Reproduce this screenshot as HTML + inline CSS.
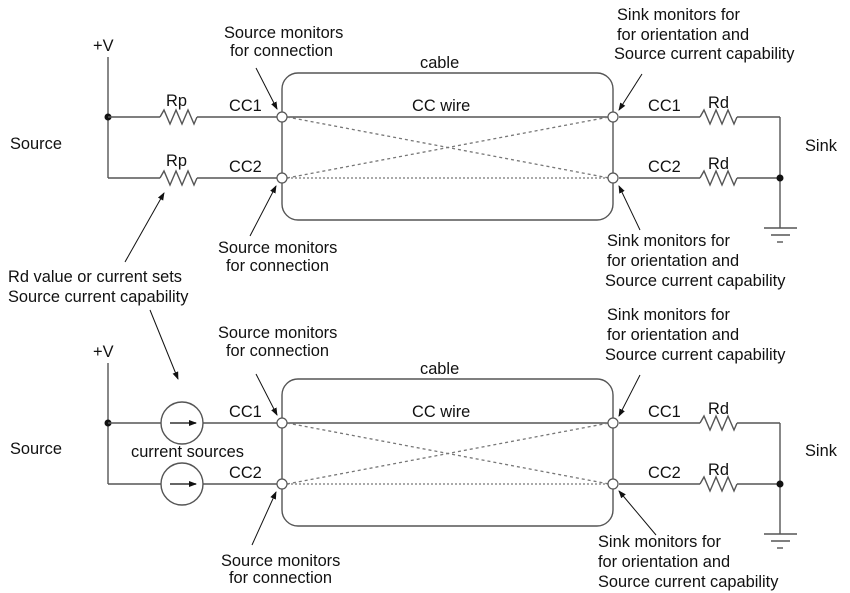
<!DOCTYPE html>
<html><head><meta charset="utf-8"><style>
html,body{margin:0;padding:0;background:#fff;}
svg{display:block;}
text{font-family:"Liberation Sans",Arial,sans-serif;font-size:16.4px;fill:#111;}
</style></head><body>
<svg width="850" height="593" viewBox="0 0 850 593" xmlns="http://www.w3.org/2000/svg">
<defs>
<marker id="ah" markerWidth="8" markerHeight="8" refX="7" refY="4" orient="auto" markerUnits="userSpaceOnUse"><path d="M0,1 L8,4 L0,7 Z" fill="#111"/></marker>
<g id="rz"><polyline points="0,0 4,-7 10,7 16,-7 22,7 28,-7 34,7 37,0" fill="none" stroke="#555" stroke-width="1.4"/></g>
<g id="sink">
  <line x1="619" y1="0" x2="700" y2="0" stroke="#555" stroke-width="1.4"/>
  <use href="#rz" x="700" y="0"/>
  <line x1="737" y1="0" x2="780" y2="0" stroke="#555" stroke-width="1.4"/>
  <line x1="619" y1="61" x2="700" y2="61" stroke="#555" stroke-width="1.4"/>
  <use href="#rz" x="700" y="61"/>
  <line x1="737" y1="61" x2="780" y2="61" stroke="#555" stroke-width="1.4"/>
  <line x1="780" y1="0" x2="780" y2="111" stroke="#555" stroke-width="1.4"/>
  <circle cx="780" cy="61" r="3.5" fill="#111"/>
  <line x1="764" y1="111" x2="797" y2="111" stroke="#555" stroke-width="1.4"/>
  <line x1="771" y1="118" x2="790" y2="118" stroke="#555" stroke-width="1.4"/>
  <line x1="777" y1="125" x2="783" y2="125" stroke="#555" stroke-width="1.4"/>
  <text x="648" y="-6">CC1</text><text x="708" y="-9">Rd</text>
  <text x="648" y="55">CC2</text><text x="708" y="52">Rd</text>
</g>
<g id="cable">
  <rect x="282" y="-44" width="331" height="147" rx="16" fill="none" stroke="#555" stroke-width="1.4"/>
  <line x1="282" y1="0" x2="613" y2="0" stroke="#555" stroke-width="1.4"/>
  <line x1="287" y1="0" x2="609" y2="61" stroke="#777" stroke-width="1.3" stroke-dasharray="3,3"/>
  <line x1="287" y1="61" x2="609" y2="0" stroke="#777" stroke-width="1.3" stroke-dasharray="3,3"/>
  <line x1="287" y1="61" x2="609" y2="61" stroke="#777" stroke-width="1.3" stroke-dasharray="2,2"/>
  <circle cx="282" cy="0" r="5" fill="#fff" stroke="#555" stroke-width="1.2"/>
  <circle cx="282" cy="61" r="5" fill="#fff" stroke="#555" stroke-width="1.2"/>
  <circle cx="613" cy="0" r="5" fill="#fff" stroke="#555" stroke-width="1.2"/>
  <circle cx="613" cy="61" r="5" fill="#fff" stroke="#555" stroke-width="1.2"/>
  <text x="420" y="-49">cable</text>
  <text x="412" y="-6">CC wire</text>
  <text x="229" y="-6">CC1</text>
  <text x="229" y="55">CC2</text>
</g>
</defs>

<text x="93" y="51">+V</text>
<line x1="108" y1="57" x2="108" y2="178" stroke="#555" stroke-width="1.4"/>
<circle cx="108" cy="117" r="3.5" fill="#111"/>
<line x1="108" y1="117" x2="160" y2="117" stroke="#555" stroke-width="1.4"/>
<use href="#rz" x="160" y="117"/>
<line x1="197" y1="117" x2="277" y2="117" stroke="#555" stroke-width="1.4"/>
<line x1="108" y1="178" x2="160" y2="178" stroke="#555" stroke-width="1.4"/>
<use href="#rz" x="160" y="178"/>
<line x1="197" y1="178" x2="277" y2="178" stroke="#555" stroke-width="1.4"/>
<text x="166" y="106">Rp</text><text x="166" y="166">Rp</text>
<use href="#cable" x="0" y="117"/>
<use href="#sink" x="0" y="117"/>
<text x="10" y="149">Source</text>
<text x="805" y="151">Sink</text>
<text x="224" y="38">Source monitors</text>
<text x="230" y="56">for connection</text>
<line x1="256" y1="68" x2="277" y2="109" stroke="#111" stroke-width="1" marker-end="url(#ah)"/>
<text x="617" y="20">Sink monitors for</text>
<text x="617" y="40">for orientation and</text>
<text x="614" y="59">Source current capability</text>
<line x1="642" y1="74" x2="619" y2="110" stroke="#111" stroke-width="1" marker-end="url(#ah)"/>
<text x="218" y="253">Source monitors</text>
<text x="226" y="271">for connection</text>
<line x1="250" y1="236" x2="276" y2="186" stroke="#111" stroke-width="1" marker-end="url(#ah)"/>
<text x="607" y="246">Sink monitors for</text>
<text x="607" y="266">for orientation and</text>
<text x="605" y="286">Source current capability</text>
<line x1="640" y1="230" x2="619" y2="186" stroke="#111" stroke-width="1" marker-end="url(#ah)"/>
<text x="8" y="282">Rd value or current sets</text>
<text x="8" y="302">Source current capability</text>
<line x1="125" y1="262" x2="164" y2="193" stroke="#111" stroke-width="1" marker-end="url(#ah)"/>
<line x1="150" y1="310" x2="178" y2="379" stroke="#111" stroke-width="1" marker-end="url(#ah)"/>

<text x="93" y="357">+V</text>
<line x1="108" y1="363" x2="108" y2="484" stroke="#555" stroke-width="1.4"/>
<circle cx="108" cy="423" r="3.5" fill="#111"/>
<line x1="108" y1="423" x2="277" y2="423" stroke="#555" stroke-width="1.4"/>
<line x1="108" y1="484" x2="277" y2="484" stroke="#555" stroke-width="1.4"/>
<circle cx="182" cy="423" r="21" fill="#fff" stroke="#555" stroke-width="1.4"/>
<line x1="170" y1="423" x2="196" y2="423" stroke="#333" stroke-width="1.4" marker-end="url(#ah)"/>
<circle cx="182" cy="484" r="21" fill="#fff" stroke="#555" stroke-width="1.4"/>
<line x1="170" y1="484" x2="196" y2="484" stroke="#333" stroke-width="1.4" marker-end="url(#ah)"/>
<text x="131" y="457">current sources</text>
<use href="#cable" x="0" y="423"/>
<use href="#sink" x="0" y="423"/>
<text x="10" y="454">Source</text>
<text x="805" y="456">Sink</text>
<text x="218" y="338">Source monitors</text>
<text x="226" y="356">for connection</text>
<line x1="256" y1="374" x2="277" y2="415" stroke="#111" stroke-width="1" marker-end="url(#ah)"/>
<text x="607" y="320">Sink monitors for</text>
<text x="607" y="340">for orientation and</text>
<text x="605" y="360">Source current capability</text>
<line x1="640" y1="375" x2="619" y2="416" stroke="#111" stroke-width="1" marker-end="url(#ah)"/>
<text x="221" y="566">Source monitors</text>
<text x="229" y="583">for connection</text>
<line x1="252" y1="545" x2="276" y2="492" stroke="#111" stroke-width="1" marker-end="url(#ah)"/>
<text x="598" y="547">Sink monitors for</text>
<text x="598" y="567">for orientation and</text>
<text x="598" y="587">Source current capability</text>
<line x1="656" y1="535" x2="619" y2="491" stroke="#111" stroke-width="1" marker-end="url(#ah)"/>
</svg>
</body></html>
